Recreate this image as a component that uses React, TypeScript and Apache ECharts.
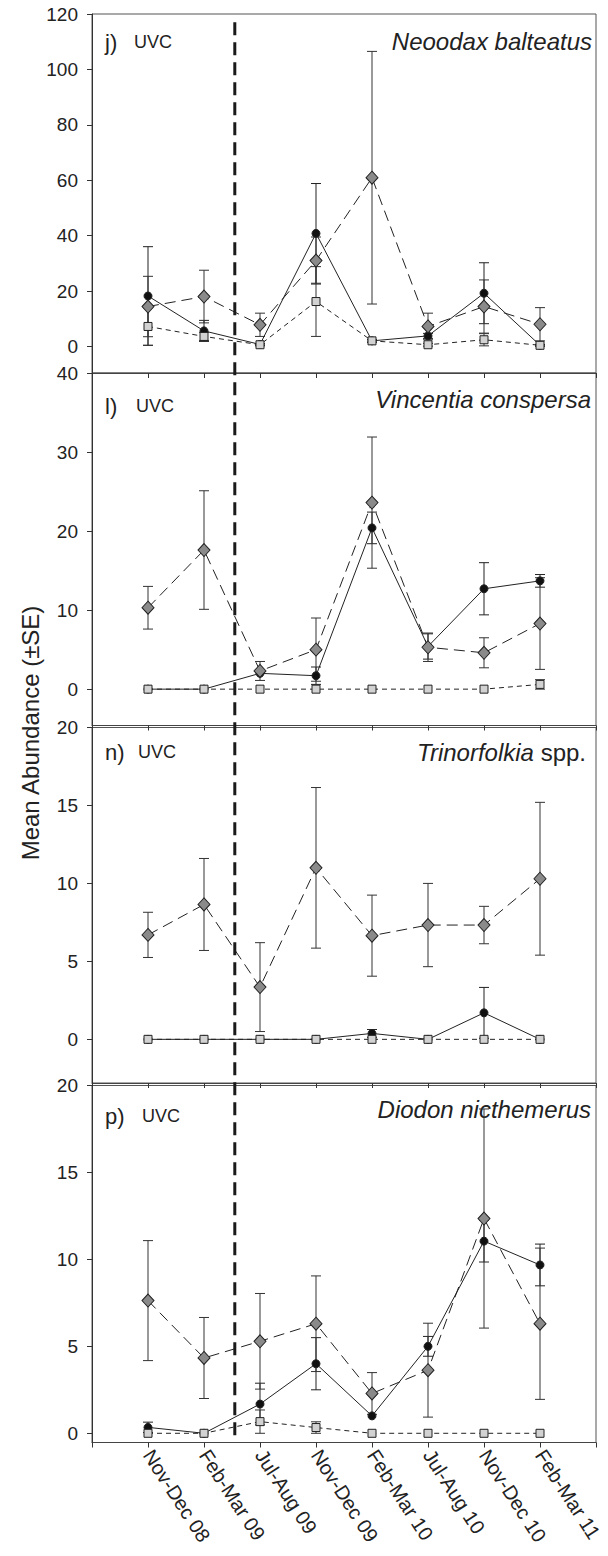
import React, { useEffect, useRef } from "react";
import * as echarts from "echarts";

const categories = ["Nov-Dec 08", "Feb-Mar 09", "Jul-Aug 09", "Nov-Dec 09", "Feb-Mar 10", "Jul-Aug 10", "Nov-Dec 10", "Feb-Mar 11"];

// Panel j) Neoodax balteatus
const jCircle = [18.2, 5.6, 0.7, 40.8, 2.0, 3.8, 19.2, 0.4];
const jCircleSE = [17.8, 3.8, 0.3, 18.0, 0.5, 0.9, 11.0, 0.3];
const jDiamond = [14.4, 18.0, 7.8, 31.0, 60.9, 7.2, 14.4, 8.0];
const jDiamondSE = [10.9, 9.5, 4.2, 8.5, 45.6, 4.8, 9.6, 6.0];
const jSquare = [7.2, 3.6, 0.6, 16.2, 2.0, 0.6, 2.4, 0.4];
const jSquareSE = [6.8, 1.5, 0.4, 12.6, 0.5, 0.5, 2.2, 0.3];
const jTicks = [0, 20, 40, 60, 80, 100, 120];

// Panel l) Vincentia conspersa
const lCircle = [0, 0, 2.0, 1.7, 20.4, 5.4, 12.7, 13.7];
const lCircleSE = [0, 0, 0, 1.1, 2.0, 1.6, 3.3, 0.8];
const lDiamond = [10.3, 17.6, 2.3, 5.0, 23.6, 5.3, 4.6, 8.3];
const lDiamondSE = [2.7, 7.5, 1.2, 4.0, 8.3, 1.8, 1.9, 5.8];
const lSquare = [0, 0, 0, 0, 0, 0, 0, 0.6];
const lSquareSE = [0, 0, 0, 0, 0, 0, 0, 0.6];
const lTicks = [0, 10, 20, 30, 40];

// Panel n) Trinorfolkia spp.
const nCircle = [0, 0, 0, 0, 0.38, 0, 1.7, 0];
const nCircleSE = [0, 0, 0, 0, 0.25, 0, 1.63, 0];
const nDiamond = [6.7, 8.65, 3.35, 11.0, 6.65, 7.33, 7.33, 10.3];
const nDiamondSE = [1.45, 2.95, 2.85, 5.15, 2.6, 2.67, 1.2, 4.9];
const nSquare = [0, 0, 0, 0, 0, 0, 0, 0];
const nSquareSE = [0, 0, 0, 0, 0, 0, 0, 0];
const nTicks = [0, 5, 10, 15, 20];

// Panel p) Diodon nicthemerus
const pCircle = [0.34, 0, 1.68, 4.0, 1.0, 5.0, 11.05, 9.68];
const pCircleSE = [0.3, 0, 1.2, 1.5, 0, 0.57, 1.2, 1.2];
const pDiamond = [7.63, 4.33, 5.29, 6.3, 2.29, 3.63, 12.35, 6.3];
const pDiamondSE = [3.45, 2.33, 2.75, 2.75, 1.2, 2.7, 6.3, 4.35];
const pSquare = [0, 0, 0.67, 0.33, 0, 0, 0, 0];
const pSquareSE = [0, 0, 0.67, 0.33, 0, 0, 0, 0];
const pTicks = [0, 5, 10, 15, 20];

const panelLetters = ["j)", "l)", "n)", "p)"];
const panelMethod = "UVC";
const panelSpecies = ["Neoodax balteatus", "Vincentia conspersa", "{i|Trinorfolkia} spp.", "Diodon nicthemerus"];
const yAxisTitle = "Mean Abundance (±SE)";
const impactIndex = 1.55; // dashed line between Feb-Mar 09 and Jul-Aug 09

const FONT = "'Liberation Sans', Arial, Helvetica, sans-serif";

// layout (pixels)
const W = 608;
const H = 1556;
const gridLeft = 92;
const gridRight = 12;
const gridTops = [14, 373, 727.5, 1085.5];
const gridBottoms = [373, 725.5, 1083, 1442.5];
const yMins = [-9.6, -4.6, -2.8, -0.53];
const yMaxs = [120, 40, 20, 20];

const panels = [
  { c: jCircle, cs: jCircleSE, d: jDiamond, ds: jDiamondSE, s: jSquare, ss: jSquareSE, ticks: jTicks },
  { c: lCircle, cs: lCircleSE, d: lDiamond, ds: lDiamondSE, s: lSquare, ss: lSquareSE, ticks: lTicks },
  { c: nCircle, cs: nCircleSE, d: nDiamond, ds: nDiamondSE, s: nSquare, ss: nSquareSE, ticks: nTicks },
  { c: pCircle, cs: pCircleSE, d: pDiamond, ds: pDiamondSE, s: pSquare, ss: pSquareSE, ticks: pTicks },
];

function errData(vals: number[], ses: number[]) {
  const out: number[][] = [];
  vals.forEach((v, i) => {
    if (ses[i] > 0) out.push([i, v - ses[i], v + ses[i]]);
  });
  return out;
}

function errSeries(k: number, vals: number[], ses: number[], color: string) {
  return {
    type: "custom",
    xAxisIndex: k,
    yAxisIndex: k,
    z: 1,
    silent: true,
    dimensions: ["x", "lo", "hi"],
    encode: { x: 0, y: [1, 2] },
    data: errData(vals, ses),
    renderItem: (params: any, api: any) => {
      const x = api.value(0);
      const p1 = api.coord([x, api.value(1)]);
      const p2 = api.coord([x, api.value(2)]);
      const w = 5;
      const st = { stroke: color, lineWidth: 1 };
      return {
        type: "group",
        children: [
          { type: "line", shape: { x1: p1[0], y1: p1[1], x2: p2[0], y2: p2[1] }, style: st },
          { type: "line", shape: { x1: p1[0] - w, y1: p1[1], x2: p1[0] + w, y2: p1[1] }, style: st },
          { type: "line", shape: { x1: p2[0] - w, y1: p2[1], x2: p2[0] + w, y2: p2[1] }, style: st },
        ],
      };
    },
  };
}

function lineSeries(k: number, vals: number[], symbol: string, size: any, fill: string, dash: any, z: number) {
  return {
    type: "line",
    xAxisIndex: k,
    yAxisIndex: k,
    z,
    silent: true,
    data: vals.map((v, i) => [i, v]),
    symbol,
    symbolSize: size,
    showSymbol: true,
    itemStyle: { color: fill, borderColor: "#222", borderWidth: 1 },
    lineStyle: { color: "#222", width: 1, type: dash },
  };
}

export default function App() {
  const ref = useRef<HTMLDivElement>(null);
  useEffect(() => {
    if (!ref.current) return;
    const chart = echarts.init(ref.current, undefined, { renderer: "svg" });

    const grids = gridTops.map((t, k) => ({
      left: gridLeft,
      right: gridRight,
      top: t,
      height: gridBottoms[k] - t,
      show: true,
      borderColor: "#555",
      borderWidth: 1,
      containLabel: false,
    }));

    const xAxes = gridTops.map((_, k) => ({
      type: "value",
      gridIndex: k,
      min: -1,
      max: 8,
      interval: 1,
      position: "bottom",
      axisLine: { show: true, onZero: false, lineStyle: { color: "#444", width: 1 } },
      axisTick: { show: true, inside: false, length: 5, lineStyle: { color: "#333" } },
      splitLine: { show: false },
      axisLabel:
        k === 3
          ? {
              show: true,
              customValues: [0, 1, 2, 3, 4, 5, 6, 7],
              formatter: (v: number) => categories[Math.round(v)] ?? "",
              rotate: -57,
              margin: 9,
              fontSize: 20,
              color: "#222",
              fontFamily: FONT,
            }
          : { show: false },
    }));

    const yAxes = gridTops.map((_, k) => ({
      type: "value",
      gridIndex: k,
      min: yMins[k],
      max: yMaxs[k],
      axisLine: { show: true, onZero: false, lineStyle: { color: "#333", width: 1 } },
      axisTick: { show: true, inside: false, length: 5, customValues: panels[k].ticks, lineStyle: { color: "#333" } },
      splitLine: { show: false },
      axisLabel: {
        show: true,
        customValues: panels[k].ticks,
        margin: 14,
        fontSize: 19,
        color: "#222",
        fontFamily: FONT,
      },
    }));

    const series: any[] = [];
    panels.forEach((p, k) => {
      series.push(errSeries(k, p.c, p.cs, "#222"));
      series.push(errSeries(k, p.d, p.ds, "#333"));
      series.push(errSeries(k, p.s, p.ss, "#333"));
      series.push(lineSeries(k, p.c, "circle", 8, "#111", "solid", 2));
      series.push(lineSeries(k, p.d, "diamond", [12, 13], "#8a8a8a", [11, 6], 3));
      series.push(lineSeries(k, p.s, "rect", 8, "#d2d2d2", [5, 4], 4));
    });

    chart.setOption({
      animation: false,
      backgroundColor: "#fff",
      textStyle: { fontFamily: FONT },
      grid: grids,
      xAxis: xAxes,
      yAxis: yAxes,
      series,
    });

    const lineX = chart.convertToPixel({ xAxisIndex: 0 }, impactIndex) as number;
    const lineTop = chart.convertToPixel({ yAxisIndex: 0 }, 117) as number;
    const lineBottom = chart.convertToPixel({ yAxisIndex: 3 }, -0.27) as number;

    const letterY = [42, 406, 752, 1116];
    const methodX = [134, 136, 138, 142];
    const titleY = [41, 399, 752, 1109];
    const titleRight = [592, 591, 586, 591];

    const graphic: any[] = [];
    gridTops.forEach((_, k) => {
      graphic.push({
        type: "text",
        x: 105,
        y: letterY[k],
        silent: true,
        style: { text: panelLetters[k], fontSize: 22, fontFamily: FONT, fill: "#222", textAlign: "left", textVerticalAlign: "middle" },
      });
      graphic.push({
        type: "text",
        x: methodX[k],
        y: letterY[k],
        silent: true,
        style: { text: panelMethod, fontSize: 18, fontFamily: FONT, fill: "#222", textAlign: "left", textVerticalAlign: "middle" },
      });
      graphic.push({
        type: "text",
        x: titleRight[k],
        y: titleY[k],
        silent: true,
        style: {
          text: panelSpecies[k],
          fontSize: 24,
          fontFamily: FONT,
          fontStyle: k === 2 ? "normal" : "italic",
          fill: "#222",
          textAlign: "right",
          textVerticalAlign: "middle",
          rich: { i: { fontStyle: "italic", fontSize: 24, fontFamily: FONT, fill: "#222" } },
        },
      });
    });
    graphic.push({
      type: "text",
      x: 30,
      y: 733,
      rotation: Math.PI / 2,
      silent: true,
      style: { text: yAxisTitle, fontSize: 24, fontFamily: FONT, fill: "#222", textAlign: "center", textVerticalAlign: "middle" },
    });
    graphic.push({
      type: "line",
      silent: true,
      z: 10,
      shape: { x1: lineX, y1: lineTop, x2: lineX, y2: lineBottom },
      style: { stroke: "#1a1a1a", lineWidth: 3, lineDash: [13, 7] },
    });

    chart.setOption({ graphic });

    return () => chart.dispose();
  }, []);

  return <div ref={ref} style={{ position: "absolute", left: 0, top: 0, width: W, height: H }} />;
}
